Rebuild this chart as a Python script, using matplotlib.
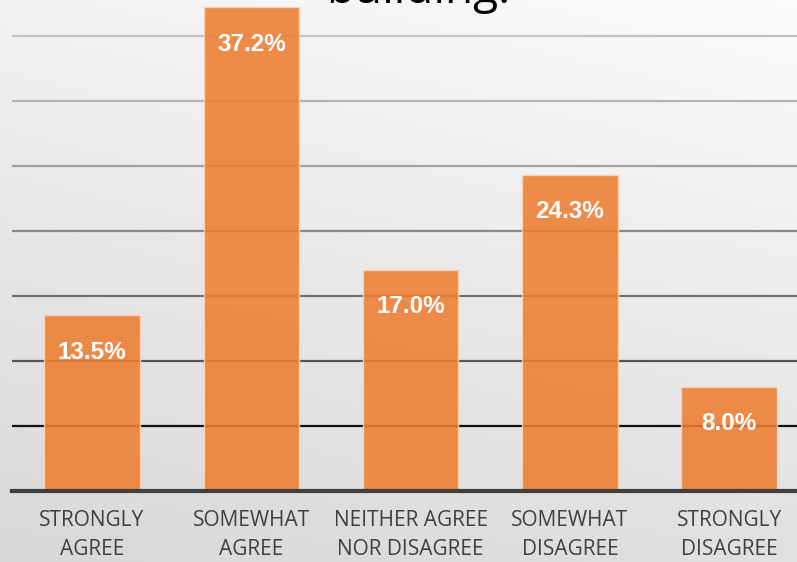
import numpy as np
import matplotlib.pyplot as plt

categories = ["STRONGLY\nAGREE", "SOMEWHAT\nAGREE", "NEITHER AGREE\nNOR DISAGREE",
              "SOMEWHAT\nDISAGREE", "STRONGLY\nDISAGREE"]
shares = [13.5, 37.2, 17.0, 24.3, 8.0]
grid_levels = [5, 10, 15, 20, 25, 30, 35]
grid_colors = ["#111111", "#555555", "#707070", "#888888", "#a0a0a0", "#b4b4b4", "#c2c2c2"]

W, H = 797, 562
fig = plt.figure(figsize=(W / 100, H / 100), dpi=100)

# soft grey backdrop, lighter toward the top right
bg = fig.add_axes([0, 0, 1, 1], zorder=0)
yy, xx = np.mgrid[0:1:200j, 0:1:200j]
shade = 0.985 - 0.105 * yy - 0.035 * (1 - xx)
bg.imshow(np.dstack([shade] * 3), extent=[0, 1, 0, 1], aspect="auto", origin="upper")
bg.axis("off")

left = 12.4 / W
bottom = (H - 490.7) / H
ax = fig.add_axes([left, bottom, 796.5 / W, 490.7 / H], zorder=1)
ax.set_facecolor("none")

x = np.arange(len(categories))
for lvl, col in zip(grid_levels, grid_colors):
    ax.axhline(lvl, color=col, lw=1.6, zorder=1)

bars = ax.bar(x, shares, width=0.6, color="#ED7D31", alpha=0.88,
              edgecolor="#fbd3b6", linewidth=1.0, zorder=2)

for xi, v in zip(x, shares):
    ax.annotate(f"{v:.1f}%", (xi, v), xytext=(0, -37), textcoords="offset pixels",
                ha="center", va="center", color="white", fontsize=17.5,
                fontweight="bold", family="Liberation Sans", zorder=3)

ax.set_xlim(-0.5, 4.5)
ax.set_ylim(0, 490.7 / 13.0)
ax.axhline(0, color="#404040", lw=3, zorder=4, clip_on=False)

ax.set_xticks(x)
ax.set_xticklabels(categories, family="Open Sans", fontsize=15, color="#404040",
                   linespacing=1.5)
ax.tick_params(axis="x", length=0, pad=14)
ax.set_yticks([])
for s in ax.spines.values():
    s.set_visible(False)

fig.text(418 / W, 1 - 3 / H, "building.", ha="center", va="baseline",
         family="Open Sans", fontsize=33, color="black", zorder=5)

fig.savefig("out.png", dpi=100)
